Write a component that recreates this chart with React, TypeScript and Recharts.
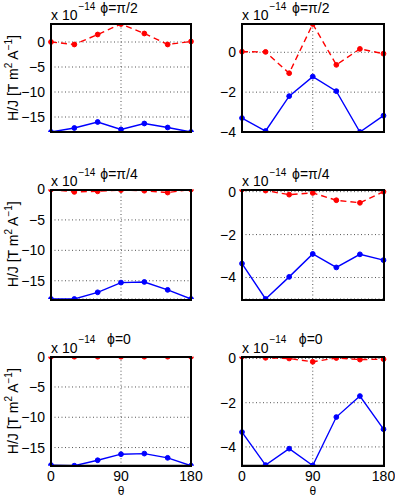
import { LineChart, Line, XAxis, YAxis, CartesianGrid } from 'recharts'

const THETA = [0, 30, 60, 90, 120, 150, 180]
const X_TICKS = [0, 90, 180]
const LEFT_TICKS = [-15, -10, -5, 0]
const RIGHT_TICKS = [-4, -2, 0]
const TITLES = ['ϕ=π/2', 'ϕ=π/4', 'ϕ=0']

// phi = pi/2
const PI2_L_RED = [0, -0.5, 1.5, 3.6, 1.7, -0.5, 0.1]
const PI2_L_BLUE = [-18, -17.2, -16.0, -17.5, -16.3, -17.1, -18]
const PI2_R_RED = [0.03, 0.02, -1.05, 1.42, -0.63, 0.17, -0.07]
const PI2_R_BLUE = [-3.3, -3.95, -2.2, -1.22, -1.95, -4.0, -3.18]

// phi = pi/4
const PI4_L_RED = [0, -0.4, -0.3, -0.1, -0.2, -0.5, 0]
const PI4_L_BLUE = [-18, -18, -16.9, -15.3, -15.2, -16.5, -18]
const PI4_R_RED = [0.1, 0.05, -0.14, -0.06, -0.4, -0.52, 0]
const PI4_R_BLUE = [-3.35, -5.0, -3.97, -2.9, -3.53, -2.92, -3.19]

// phi = 0
const PHI0_L_RED = [0, 0, 0, 0, 0, 0, 0]
const PHI0_L_BLUE = [-17.9, -18, -17.1, -16.1, -16.0, -16.7, -18]
const PHI0_R_RED = [0.08, 0.03, 0.0, -0.15, 0.02, -0.05, -0.03]
const PHI0_R_BLUE = [-3.33, -4.82, -4.08, -4.84, -2.65, -1.7, -3.2]

// y limits (matlab "axis tight")
const PI2_L_DOMAIN = [-18, 3.6]
const PI2_R_DOMAIN = [-4, 1.42]
const PI4_L_DOMAIN = [-18, 0]
const PI4_R_DOMAIN = [-5, 0.1]
const PHI0_L_DOMAIN = [-18, 0]
const PHI0_R_DOMAIN = [-4.85, 0.08]

const FONT = '"Liberation Sans", Arial, Helvetica, sans-serif'
const BOX = { stroke: 'black', strokeWidth: 2 }

const COLS = [
  { left: 0, width: 210, plotL: 51, plotR: 191, yTicks: LEFT_TICKS },
  { left: 200, width: 195, plotL: 42, plotR: 183.5, yTicks: RIGHT_TICKS },
]
const ROWS = [
  { top: 0, height: 150, plotT: 24, plotB: 132, titleGap: 11.5 },
  { top: 150, height: 170, plotT: 39.5, plotB: 149, titleGap: 11 },
  { top: 315, height: 182, plotT: 41.7, plotB: 150.7, titleGap: 13 },
]

const PANELS = [
  [
    { red: PI2_L_RED, blue: PI2_L_BLUE, domain: PI2_L_DOMAIN },
    { red: PI2_R_RED, blue: PI2_R_BLUE, domain: PI2_R_DOMAIN },
  ],
  [
    { red: PI4_L_RED, blue: PI4_L_BLUE, domain: PI4_L_DOMAIN },
    { red: PI4_R_RED, blue: PI4_R_BLUE, domain: PI4_R_DOMAIN },
  ],
  [
    { red: PHI0_L_RED, blue: PHI0_L_BLUE, domain: PHI0_L_DOMAIN },
    { red: PHI0_R_RED, blue: PHI0_R_BLUE, domain: PHI0_R_DOMAIN },
  ],
]

const fmt = (v: number) => (v < 0 ? `\u2212${-v}` : `${v}`)

function Panel({ row, col }: { row: number; col: number }) {
  const r = ROWS[row]
  const c = COLS[col]
  const p = PANELS[row][col]
  const bottomRow = row === ROWS.length - 1
  const data = THETA.map((t, i) => ({ theta: t, red: p.red[i], blue: p.blue[i] }))
  const xAxisH = bottomRow ? r.height - r.plotB : 0
  const cx = (c.plotL + c.plotR) / 2
  const cy = (r.plotT + r.plotB) / 2

  return (
    <div style={{ position: 'absolute', left: c.left, top: r.top, width: c.width, height: r.height }}>
      <LineChart
        width={c.width}
        height={r.height}
        data={data}
        margin={{ top: r.plotT, right: c.width - c.plotR, bottom: bottomRow ? 0 : r.height - r.plotB, left: 0 }}
        style={{ fontFamily: FONT }}
      >
        <CartesianGrid stroke="#555" strokeDasharray="1 2.5" />
        <XAxis
          dataKey="theta"
          type="number"
          domain={[0, 180]}
          ticks={X_TICKS}
          height={xAxisH}
          axisLine={BOX}
          tickLine={false}
          tickSize={0}
          tickMargin={5}
          tick={{ fontSize: 14, fill: bottomRow ? '#000' : 'transparent' }}
        />
        <YAxis
          type="number"
          domain={p.domain}
          ticks={c.yTicks}
          width={c.plotL}
          axisLine={BOX}
          tickLine={false}
          tickSize={0}
          tickMargin={6}
          tickFormatter={fmt}
          tick={{ fontSize: 14, fill: '#000' }}
          allowDataOverflow
        />
        <Line
          dataKey="blue"
          stroke="#0000ff"
          strokeWidth={1.4}
          dot={{ r: 2.4, fill: '#0000ff', stroke: '#0000ff', strokeWidth: 1 }}
          isAnimationActive={false}
        />
        <Line
          dataKey="red"
          stroke="#ff0000"
          strokeWidth={1.4}
          strokeDasharray="6 4"
          dot={{ r: 2.4, fill: '#ff0000', stroke: '#ff0000', strokeWidth: 1, strokeDasharray: '' }}
          isAnimationActive={false}
        />
      </LineChart>
      {/* axes box over the plot area */}
      <div
        style={{
          position: 'absolute',
          left: Math.round(c.plotL) - 1,
          top: Math.round(r.plotT) - 1,
          width: Math.round(c.plotR - c.plotL) + 2,
          height: Math.round(r.plotB - r.plotT) + 2,
          borderWidth: 2,
          borderStyle: 'solid',
          borderColor: '#000',
          boxSizing: 'border-box',
          pointerEvents: 'none',
          zIndex: 2,
        }}
      />
      <svg
        width={c.width}
        height={r.height}
        style={{ position: 'absolute', left: 0, top: 0, pointerEvents: 'none', fontFamily: FONT, zIndex: 3 }}
      >
        <text x={c.plotL} y={r.plotT - 4} fontSize={14} fill="#000">
          x 10<tspan fontSize={10} dy={-10} dx={1}>−14</tspan>
        </text>
        <text x={cx - 2} y={r.plotT - r.titleGap} fontSize={14} fill="#000" textAnchor="middle">
          {TITLES[row]}
        </text>
        {col === 0 && (
          <text x={18} y={cy} fontSize={14} fill="#000" textAnchor="middle" transform={`rotate(-90, 18, ${cy})`}>
            H/J [T m<tspan fontSize={10} dy={-6}>2</tspan>
            <tspan dy={6}> A</tspan>
            <tspan fontSize={10} dy={-6}>−1</tspan>
            <tspan dy={6}>]</tspan>
          </text>
        )}
        {bottomRow && (
          <text x={cx} y={r.height - 2} fontSize={12} fill="#000" textAnchor="middle">
            θ
          </text>
        )}
      </svg>
    </div>
  )
}

export default function App() {
  return (
    <div style={{ position: 'absolute', left: 0, top: 0, width: 395, height: 497, background: '#fff' }}>
      {ROWS.map((_, ri) => COLS.map((_, ci) => <Panel key={`${ri}-${ci}`} row={ri} col={ci} />))}
    </div>
  )
}
